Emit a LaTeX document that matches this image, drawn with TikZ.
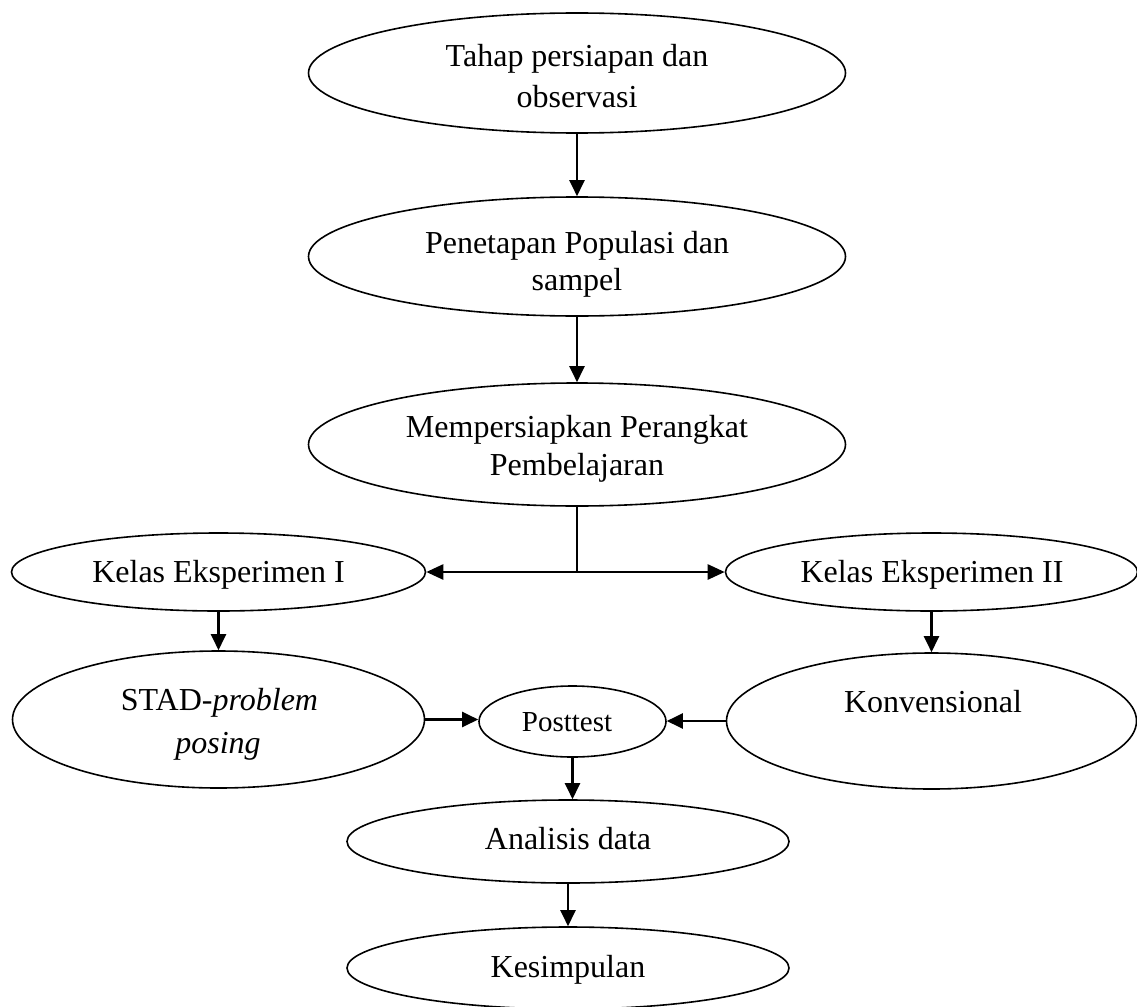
\documentclass[tikz,border=0pt]{standalone}
\usepackage{fontspec}
\setmainfont{Liberation Serif}
\usetikzlibrary{shapes.geometric,arrows.meta}
\begin{document}
\begin{tikzpicture}[x=1pt,y=-1pt,
  el/.style={draw, ellipse, line width=1.6pt, inner sep=0pt},
  txt/.style={anchor=base, inner sep=0pt, font=\fontsize{32}{38}\selectfont},
  arr/.style={line width=2.2pt, -{Triangle[length=16pt,width=15pt]}},
  heavyarr/.style={line width=2.6pt, -{Triangle[length=17pt,width=15pt]}}
]
\useasboundingbox (0,0) rectangle (1137,1006);
% ellipses
\node[el, minimum width=537pt, minimum height=120pt] (e1) at (577,73) {};
\node[el, minimum width=537pt, minimum height=119pt] (e2) at (577,256.5) {};
\node[el, minimum width=537pt, minimum height=123pt] (e3) at (577,444.5) {};
\node[el, minimum width=414pt, minimum height=78pt] (k1) at (218.5,572) {};
\node[el, minimum width=412pt, minimum height=78pt] (k2) at (931.5,572) {};
\node[el, minimum width=412pt, minimum height=137pt] (stad) at (218.5,719.5) {};
\node[el, minimum width=410pt, minimum height=136pt] (konv) at (931.5,721) {};
\node[el, minimum width=187pt, minimum height=71pt] (post) at (572.5,721.5) {};
\node[el, minimum width=442pt, minimum height=83pt] (ana) at (568,841.5) {};
\node[el, minimum width=442pt, minimum height=82pt] (kes) at (568,968) {};
% texts
\node[txt] (t1a) at (577,67) {Tahap persiapan dan};
\node[txt] (t1b) at (577,108) {observasi};
\node[txt] (t2a) at (577,253) {Penetapan Populasi dan};
\node[txt] (t2b) at (577,290) {sampel};
\node[txt] (t3a) at (577,437) {Mempersiapkan Perangkat};
\node[txt] (t3b) at (577,475) {Pembelajaran};
\node[txt] (tk1) at (218.5,582) {Kelas Eksperimen I};
\node[txt] (tk2) at (932,582) {Kelas Eksperimen II};
\node[txt] (tsa) at (219.5,710) {STAD-\textit{problem}};
\node[txt] (tsb) at (218,753) {\textit{posing}};
\node[txt] (tkv) at (933,712) {Konvensional};
\node[txt, font=\fontsize{29}{34}\selectfont] (tpo) at (567,731) {Posttest};
\node[txt] (tan) at (568,849) {Analisis data};
\node[txt] (tke) at (568,977) {Kesimpulan};
% connectors
\draw[arr] (e1.south) -- (e2.north);
\draw[arr] (e2.south) -- (e3.north);
\coordinate (j) at (e3.south |- k1.east);
\draw[line width=2.2pt] (e3.south) -- (j);
\draw[heavyarr] (j) -- (k1.east);
\draw[heavyarr] (j) -- (k2.west);
\draw[arr] (k1.south) -- (stad.north);
\draw[arr] (k2.south) -- (konv.north);
\draw[arr] (stad.east) -- (stad.east -| post.west);
\draw[arr] (konv.west) -- (konv.west -| post.east);
\draw[arr] (post.south) -- (post.south |- ana.north);
\draw[arr] (ana.south) -- (kes.north);
\end{tikzpicture}
\end{document}
